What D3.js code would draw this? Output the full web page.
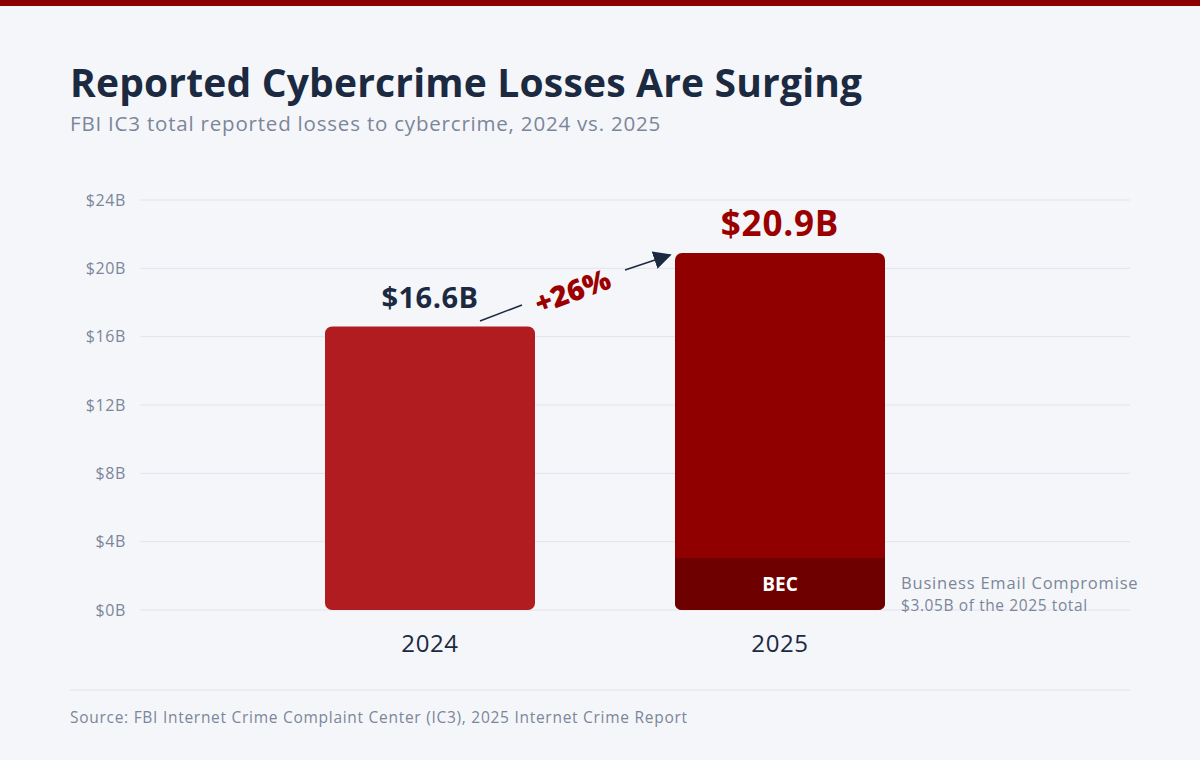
<!DOCTYPE html>
<html><head><meta charset="utf-8">
<script src="https://cdn.jsdelivr.net/npm/d3@7"></script>
<style>
html,body{margin:0;padding:0;background:#f5f6fa;}
svg{display:block;font-family:"Open Sans","Noto Sans",sans-serif;}
</style></head>
<body>
<svg id="chart" width="1200" height="760"></svg>
<script>
const years = ["2024", "2025"];
const totals = [16.6, 20.9];
const becValue = [0, 3.05];
const totalLabels = ["$16.6B", "$20.9B"];
const yTicks = [0, 4, 8, 12, 16, 20, 24];
const changeLabel = "+26%";

const svg = d3.select("#chart");
svg.append("rect").attr("width",1200).attr("height",760).attr("fill","#f5f6fa");
svg.append("rect").attr("width",1200).attr("height",6).attr("fill","#8c0000");

svg.append("text").attr("x",70).attr("y",97).attr("font-size",39).attr("font-weight",700)
  .attr("letter-spacing",0.18).attr("fill","#1b2a41").text("Reported Cybercrime Losses Are Surging");
svg.append("text").attr("x",70).attr("y",131).attr("font-size",20.5).attr("fill","#7b8699")
  .attr("letter-spacing",0.8).text("FBI IC3 total reported losses to cybercrime, 2024 vs. 2025");

const y = d3.scaleLinear().domain([0,24]).range([610,200]);
const x = d3.scaleBand().domain(years).range([255,955]).paddingInner(0.4).paddingOuter(0.2);

const yAxis = d3.axisLeft(y).tickValues(yTicks).tickSize(0).tickPadding(14).tickFormat(d=>"$"+d+"B");
const gy = svg.append("g").attr("transform","translate(140,0)").call(yAxis);
gy.select(".domain").remove();
gy.selectAll("text").attr("font-size",16).attr("letter-spacing",0.6).attr("fill","#7b8699").attr("font-family","\"Open Sans\",sans-serif");
svg.append("g").selectAll("line").data(yTicks).join("line")
  .attr("x1",140).attr("x2",1130).attr("y1",d=>y(d)).attr("y2",d=>y(d))
  .attr("stroke","#e2e4ec").attr("stroke-width",1);

const colors = ["#b01c1f","#900000"];
svg.append("g").selectAll("rect").data(years).join("rect")
  .attr("x",d=>x(d)).attr("width",x.bandwidth())
  .attr("y",(d,i)=>y(totals[i])).attr("height",(d,i)=>y(0)-y(totals[i]))
  .attr("rx",7).attr("fill",(d,i)=>colors[i]);

// BEC segment
const bx = x("2025"), bw = x.bandwidth(), bTop = y(becValue[1]), bBot = y(0), r = 7;
svg.append("path").attr("fill","#6e0000")
  .attr("d",`M${bx},${bTop}H${bx+bw}V${bBot-r}Q${bx+bw},${bBot} ${bx+bw-r},${bBot}H${bx+r}Q${bx},${bBot} ${bx},${bBot-r}Z`);
svg.append("text").attr("x",bx+bw/2).attr("y",(bTop+bBot)/2+7).attr("text-anchor","middle")
  .attr("font-size",19).attr("font-weight",700).attr("fill","#ffffff").text("BEC");
svg.append("text").attr("x",901).attr("y",589).attr("font-size",16.5).attr("letter-spacing",0.8).attr("fill","#7b8699")
  .text("Business Email Compromise");
svg.append("text").attr("x",901).attr("y",611).attr("font-size",15.5).attr("letter-spacing",0.6).attr("fill","#7b8699")
  .text("$3.05B of the 2025 total");

// value labels
svg.append("text").attr("x",x("2024")+bw/2).attr("y",y(totals[0])-18).attr("text-anchor","middle")
  .attr("font-size",29).attr("font-weight",700).attr("letter-spacing",0.5).attr("fill","#1b2a41").text(totalLabels[0]);
svg.append("text").attr("x",x("2025")+bw/2).attr("y",y(totals[1])-17).attr("text-anchor","middle")
  .attr("font-size",35).attr("font-weight",700).attr("letter-spacing",0.8).attr("fill","#9b0000").text(totalLabels[1]);

// year labels
svg.append("g").selectAll("text").data(years).join("text")
  .attr("x",d=>x(d)+bw/2).attr("y",652).attr("text-anchor","middle")
  .attr("font-size",24).attr("font-weight",500).attr("letter-spacing",0.6).attr("fill","#1b2a41").text(d=>d);

// arrow
const defs = svg.append("defs");
defs.append("marker").attr("id","ah").attr("viewBox","0 0 10 10").attr("refX",9).attr("refY",5)
  .attr("markerWidth",18).attr("markerHeight",18).attr("markerUnits","userSpaceOnUse").attr("orient","auto")
  .append("path").attr("d","M0,0L10,5L0,10Z").attr("fill","#1b2a41");
svg.append("line").attr("x1",480).attr("y1",321).attr("x2",522).attr("y2",305)
  .attr("stroke","#1b2a41").attr("stroke-width",1.5);
svg.append("line").attr("x1",625).attr("y1",270).attr("x2",670).attr("y2",255)
  .attr("stroke","#1b2a41").attr("stroke-width",1.5).attr("marker-end","url(#ah)");
svg.append("text").attr("transform","translate(576,301) rotate(-20)").attr("text-anchor","middle")
  .attr("font-size",29).attr("font-weight",800).attr("fill","#9b0000").text(changeLabel);

// footer
svg.append("line").attr("x1",70).attr("x2",1130).attr("y1",690).attr("y2",690)
  .attr("stroke","#e2e4ec").attr("stroke-width",1);
svg.append("text").attr("x",70).attr("y",723).attr("font-size",15.5).attr("letter-spacing",0.72).attr("fill","#7b8699")
  .text("Source: FBI Internet Crime Complaint Center (IC3), 2025 Internet Crime Report");
</script>
</body></html>
